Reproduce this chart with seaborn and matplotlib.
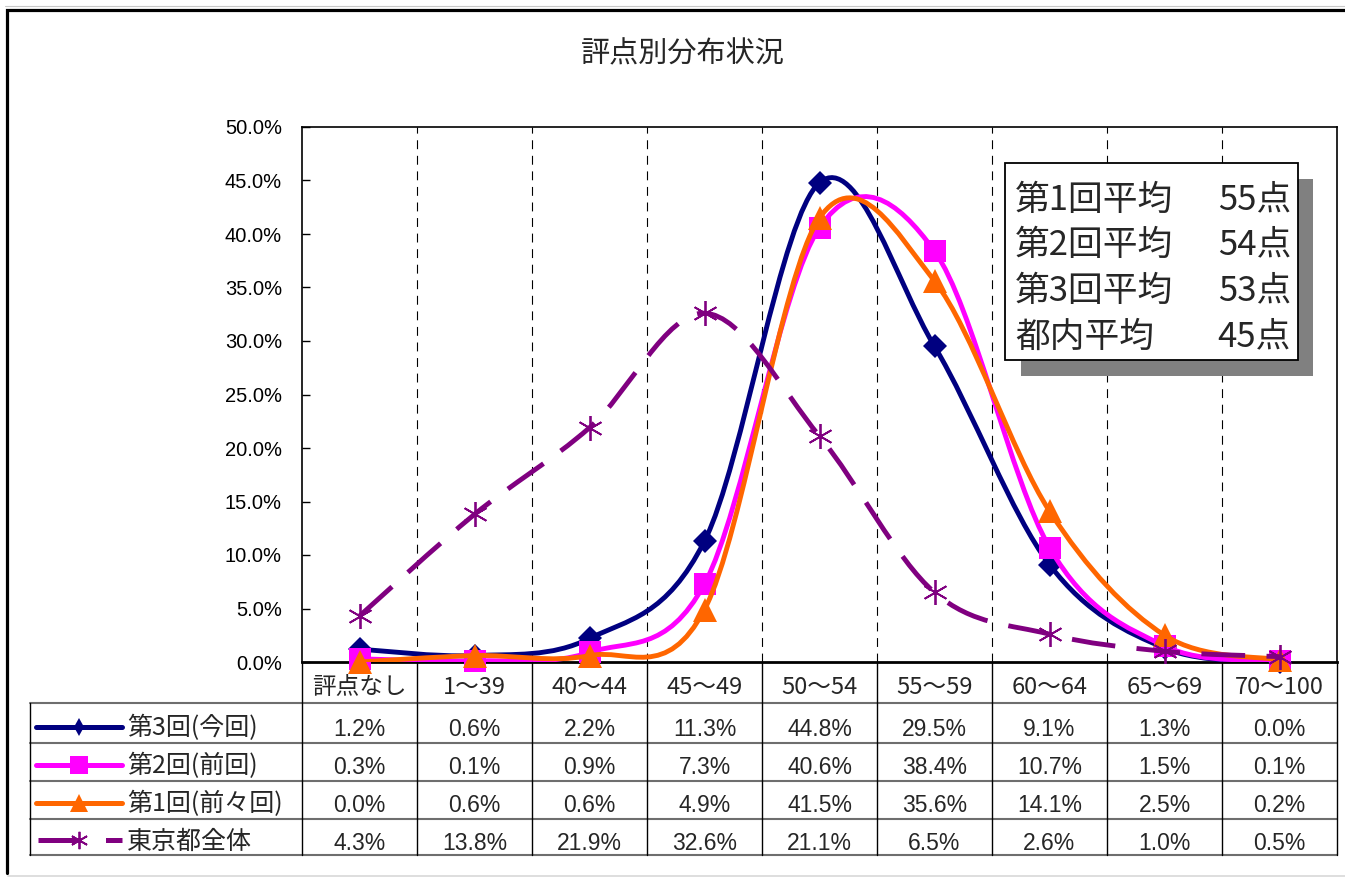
import numpy as np
import matplotlib
matplotlib.use("Agg")
import matplotlib.pyplot as plt
import seaborn as sns
from matplotlib.path import Path
from matplotlib.patches import PathPatch, Rectangle
from matplotlib.transforms import blended_transform_factory


# ---- data ----
categories = ["評点なし", "1～39", "40～44", "45～49", "50～54",
              "55～59", "60～64", "65～69", "70～100"]

series_names = ["第3回(今回)", "第2回(前回)", "第1回(前々回)", "東京都全体"]

third_round = [1.2, 0.6, 2.2, 11.3, 44.8, 29.5, 9.1, 1.3, 0.0]
second_round = [0.3, 0.1, 0.9, 7.3, 40.6, 38.4, 10.7, 1.5, 0.1]
first_round = [0.0, 0.6, 0.6, 4.9, 41.5, 35.6, 14.1, 2.5, 0.2]
tokyo_all = [4.3, 13.8, 21.9, 32.6, 21.1, 6.5, 2.6, 1.0, 0.5]

average_labels = ["第1回平均", "第2回平均", "第3回平均", "都内平均"]
average_points = ["55点", "54点", "53点", "45点"]

# ---- styling ----
W, H = 1345, 877
NUM_FONT = "Liberation Sans"

styles = [
    dict(color="#000080", marker="D", ms=12.5, key_marker="d", key_ms=8.7, dashes=None),
    dict(color="#FF00FF", marker="s", ms=16.5, key_marker="s", key_ms=13, dashes=None),
    dict(color="#FF6600", marker="^", ms=17.5, key_marker="^", key_ms=13.5, dashes=None),
    dict(color="#800080", marker=(6, 2, 0), ms=18, key_marker=(6, 2, 0), key_ms=12.5,
         dashes=(9, 4.4)),
]


def smooth_path(x, y):

    """
    Build a Bezier path through the points (Excel style smoothed line).
    """

    n = len(x)
    verts = [(x[0], y[0])]
    codes = [Path.MOVETO]
    for i in range(n - 1):
        xa, ya = (x[i - 1], y[i - 1]) if i > 0 else (x[i], y[i])
        xd, yd = (x[i + 2], y[i + 2]) if i + 2 < n else (x[i + 1], y[i + 1])
        c1 = (x[i] + (x[i + 1] - xa) / 6, y[i] + (y[i + 1] - ya) / 6)
        c2 = (x[i + 1] - (xd - x[i]) / 6, y[i + 1] - (yd - y[i]) / 6)
        verts += [c1, c2, (x[i + 1], y[i + 1])]
        codes += [Path.CURVE4] * 3
    return Path(verts, codes)


sns.set_style("white")
plt.rcParams["font.family"] = ["Noto Sans CJK JP", "DejaVu Sans"]

fig = plt.figure(figsize=(W / 100, H / 100), dpi=100, facecolor="white")

# main plot area
ax = fig.add_axes([302 / W, 1 - 662 / H, 1035 / W, 535 / H])
xs = np.arange(len(categories))
all_series = [third_round, second_round, first_round, tokyo_all]

for k, (vals, st) in enumerate(zip(all_series, styles)):
    ls = "-" if st["dashes"] is None else (0, st["dashes"])
    patch = PathPatch(
        smooth_path(xs, vals),
        fill=False,
        edgecolor=st["color"],
        lw=3.5,
        linestyle=ls,
        capstyle="butt",
        joinstyle="round",
        zorder=3 + 2 * k
    )
    ax.add_patch(patch)
    filled = st["dashes"] is None
    sns.lineplot(
        x=xs,
        y=vals,
        ax=ax,
        linestyle="none",
        marker=st["marker"],
        markersize=st["ms"],
        color=st["color"],
        markeredgecolor=st["color"],
        markeredgewidth=0 if filled else 1.3,
        legend=False,
        clip_on=False,
        zorder=4 + 2 * k
    )

ax.set_xlim(-0.5, len(categories) - 0.5)
ax.set_ylim(0, 50)
ax.set_yticks(np.arange(0, 50.1, 5))
ax.set_yticklabels([f"{v:.1f}%" for v in np.arange(0, 50.1, 5)],
                   fontfamily=NUM_FONT, fontsize=14.5)
ax.set_xticks([])
ax.set_xlabel("")
ax.set_ylabel("")
ax.tick_params(axis="y", direction="in", length=6, width=1, pad=14.4,
               left=True, colors="black")

for b in np.arange(0.5, len(categories) - 0.5, 1):
    ax.axvline(b, color="black", lw=0.8, linestyle=(0, (8, 6)), zorder=1)

for side in ["left", "top", "right"]:
    ax.spines[side].set_color("black")
    ax.spines[side].set_linewidth(1.2)
ax.spines["bottom"].set_color("black")
ax.spines["bottom"].set_linewidth(2)

# overlay in pixel coordinates for title, table and text box
ov = fig.add_axes([0, 0, 1, 1], zorder=2)
ov.set_xlim(0, W)
ov.set_ylim(H, 0)
ov.axis("off")
ov.patch.set_alpha(0)
tr = blended_transform_factory(ax.transData, ov.transData)

ov.text(683, 54, "評点別分布状況", ha="center", va="center", fontsize=21)

# outer frame
ov.plot([6.5, 6.5, W], [873, 10, 10], color="black", lw=2.3, solid_joinstyle="miter")
ov.plot([5, W], [6, 6], color="#c8c8c8", lw=0.8)
ov.plot([8, W], [875.5, 875.5], color="#d8d8d8", lw=1.2)

# data table
row_lines = [703, 743, 781, 819, 855]
row_mid = [729, 767, 805, 843]
key_y = [727, 765, 803, 840]
for yl in row_lines:
    ov.plot([30, 1337], [yl, yl], color="#6e6e6e", lw=1.5)
for b in np.arange(-0.5, len(categories), 1):
    ov.plot([b, b], [662, 855], color="black", lw=1, transform=tr)
ov.plot([30, 30], [703, 855], color="black", lw=1)

for i, cat in enumerate(categories):
    ov.text(i, 687, cat, ha="center", va="center", fontsize=17, transform=tr)

for r, (name, vals, st) in enumerate(zip(series_names, all_series, styles)):
    if st["dashes"] is None:
        ov.plot([36, 122], [key_y[r], key_y[r]], color=st["color"], lw=3.6,
                solid_capstyle="round")
    else:
        ov.plot([38, 122], [key_y[r], key_y[r]], color=st["color"], lw=3.6,
                linestyle=(0, (8.5, 5)), dash_capstyle="butt")
    filled = st["dashes"] is None
    ov.plot([79], [key_y[r]], marker=st["key_marker"], ms=st["key_ms"],
            color=st["color"], markeredgewidth=0 if filled else 1.3,
            linestyle="none")
    ov.text(127, row_mid[r] - 1, name, ha="left", va="center", fontsize=18)
    for i, v in enumerate(vals):
        ov.text(i, row_mid[r], f"{v:.1f}%", ha="center", va="center",
                fontfamily=NUM_FONT, fontsize=16.5, transform=tr)

# averages text box with shadow
ov.add_patch(Rectangle((1021, 179), 292, 197, facecolor="#808080",
                       edgecolor="none", zorder=3))
ov.add_patch(Rectangle((1005, 163), 293, 197, facecolor="white",
                       edgecolor="black", lw=1.3, zorder=4))
box_y = [200, 245, 291, 337]
for lab, pts, yy in zip(average_labels, average_points, box_y):
    ov.text(1015, yy, lab, ha="left", va="center", fontsize=25, zorder=5)
    ov.text(1291, yy, pts, ha="right", va="center", fontsize=25, zorder=5)

fig.savefig("out.png", dpi=100, facecolor="white")
